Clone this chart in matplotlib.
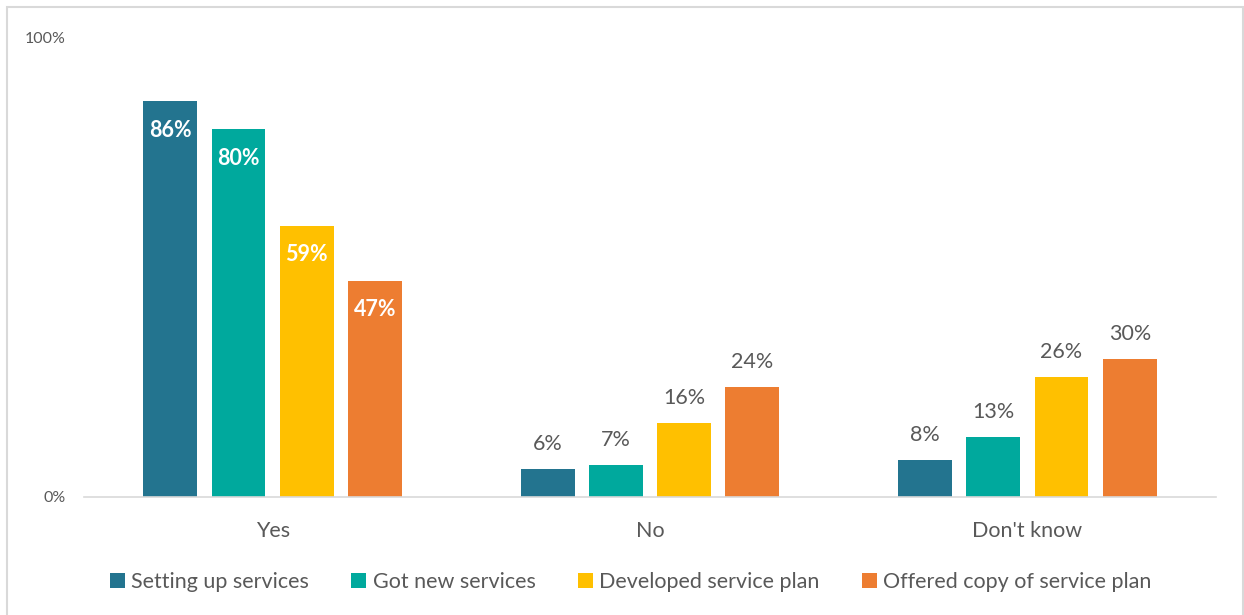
import numpy as np
import matplotlib.pyplot as plt
from matplotlib.patches import Rectangle

plt.rcParams['font.family'] = ['Lato', 'DejaVu Sans']

categories = ["Yes", "No", "Don't know"]
series = ["Setting up services", "Got new services",
          "Developed service plan", "Offered copy of service plan"]
values = [
    [86, 6, 8],
    [80, 7, 13],
    [59, 16, 26],
    [47, 24, 30],
]
colors = ["#23748F", "#00A99D", "#FFC000", "#ED7D31"]
text_grey = "#595959"

fig = plt.figure(figsize=(12.44, 6.15), dpi=100)
ax = fig.add_axes([0.0675, 0.1919, 0.91, 0.7479])

# light chart border
fig.patches.append(Rectangle((7 / 1244, -0.01), 1236 / 1244, 1 - 7 / 615 + 0.01,
                             transform=fig.transFigure, fill=False,
                             edgecolor="#D9D9D9", linewidth=1.5))

x = np.arange(len(categories))
width = 0.143
step = 0.181
for i, (name, vals, c) in enumerate(zip(series, values, colors)):
    pos = x + (i - 1.5) * step
    bars = ax.bar(pos, vals, width, color=c, label=name)
    for j, (b, v) in enumerate(zip(bars, vals)):
        cx = b.get_x() + b.get_width() / 2
        if j == 0:
            ax.annotate(f"{v}%", (cx, v), xytext=(0, -29), textcoords="offset pixels",
                        ha="center", va="center", color="white",
                        fontsize=15.5, fontweight="bold")
        else:
            ax.annotate(f"{v}%", (cx, v), xytext=(0, 25), textcoords="offset pixels",
                        ha="center", va="center", color=text_grey, fontsize=15.5)

ax.set_xlim(-0.5, 2.5)
ax.set_ylim(0, 100)
ax.set_yticks([0, 100])
ax.set_yticklabels(["0%", "100%"], color=text_grey, fontsize=11.5)
ax.set_xticks(x)
ax.set_xticklabels(categories, color=text_grey, fontsize=15.5)
ax.tick_params(axis="y", length=0, pad=13)
ax.tick_params(axis="x", length=0, pad=17)
for s in ["top", "right", "left"]:
    ax.spines[s].set_visible(False)
ax.spines["bottom"].set_color("#D9D9D9")
ax.spines["bottom"].set_linewidth(1.2)

leg = fig.legend(loc="center", bbox_to_anchor=(0.507, 1 - 582 / 615), ncol=4,
                 frameon=False, fontsize=15.5, handlelength=0.7, handleheight=0.7,
                 handletextpad=0.3, columnspacing=1.95)
for t in leg.get_texts():
    t.set_color(text_grey)

fig.savefig("out.png", dpi=100)
